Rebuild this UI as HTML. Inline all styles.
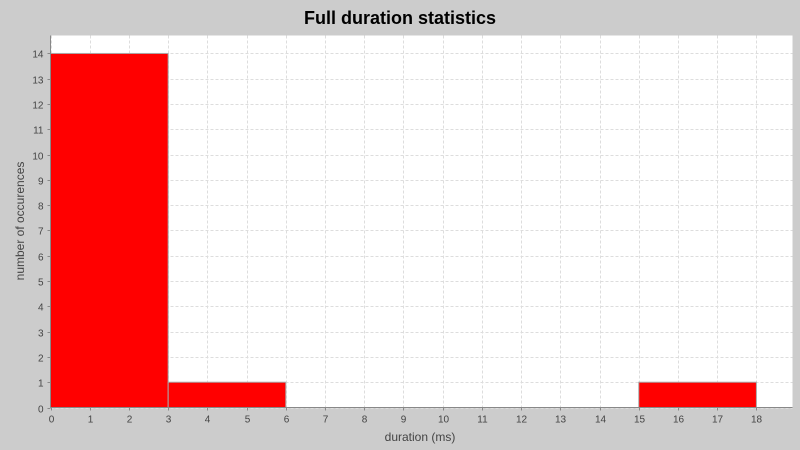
<!DOCTYPE html>
<html><head><meta charset="utf-8"><style>
body{margin:0;background:#cccccc;}
svg{display:block;font-family:"Liberation Sans",sans-serif;}
</style></head><body>
<svg id="c" width="800" height="450">
<rect width="800" height="450" fill="#cccccc"/>
<text x="400" y="24" text-anchor="middle" font-size="18" font-weight="bold" fill="#000">Full duration statistics</text>
<rect x="50.5" y="35.5" width="742" height="372" fill="#fff"/>
<g id="grid"></g><g id="bars"></g><g id="axes"></g>
<text x="420" y="441" text-anchor="middle" font-size="12" fill="#444">duration (ms)</text>
<text transform="translate(24,221) rotate(-90)" text-anchor="middle" font-size="12" fill="#444">number of occurences</text>
</svg>
<script>
const binStarts=[0,3,15];
const binWidth=3;
const counts=[14,1,1];
const xTicks=[0,1,2,3,4,5,6,7,8,9,10,11,12,13,14,15,16,17,18];
const yTicks=[0,1,2,3,4,5,6,7,8,9,10,11,12,13,14];
const L=50.5,R=792.5,T=35.5,B=407.5,XMAX=18.92,YMAX=14.71;
const sx=v=>L+v*(R-L)/XMAX, sy=v=>B-v*(B-T)/YMAX;
const NS="http://www.w3.org/2000/svg";
function mk(t,a,p){const e=document.createElementNS(NS,t);for(const k in a)e.setAttribute(k,a[k]);p.appendChild(e);return e;}
const g=document.getElementById('grid'),bg=document.getElementById('bars'),ax=document.getElementById('axes');
xTicks.forEach(v=>{const x=Math.round(sx(v))+0.5;
 const l=mk('line',{x1:x,x2:x,y1:T,y2:B,stroke:'#ddd','stroke-dasharray':'3,2'},g);
 
 mk('line',{x1:x,x2:x,y1:B,y2:B+3,stroke:'#888'},ax);
 const t=mk('text',{x:x,y:B+15,'text-anchor':'middle','font-size':'10',fill:'#444'},ax);t.textContent=v;
 });
yTicks.forEach(v=>{const y=Math.round(sy(v))+0.5;
 const l=mk('line',{x1:L,x2:R,y1:y,y2:y,stroke:'#ddd','stroke-dasharray':'3,2'},g);
 
 mk('line',{x1:L-3,x2:L,y1:y,y2:y,stroke:'#888'},ax);
 const t=mk('text',{x:L-7,y:y+4,'text-anchor':'end','font-size':'10',fill:'#444'},ax);t.textContent=v;
 });
binStarts.forEach((s,i)=>{const x0=sx(s),x1=sx(s+binWidth),y=sy(counts[i]);
 const r=mk('rect',{x:x0,y:y,width:x1-x0,height:B-y,fill:'#ff0000',stroke:'#aaa','stroke-width':1},bg);
 });
mk('line',{x1:L,x2:L,y1:T,y2:B,stroke:'#888'},ax);
mk('line',{x1:L,x2:R,y1:B,y2:B,stroke:'#888'},ax);
</script>
</body></html>
